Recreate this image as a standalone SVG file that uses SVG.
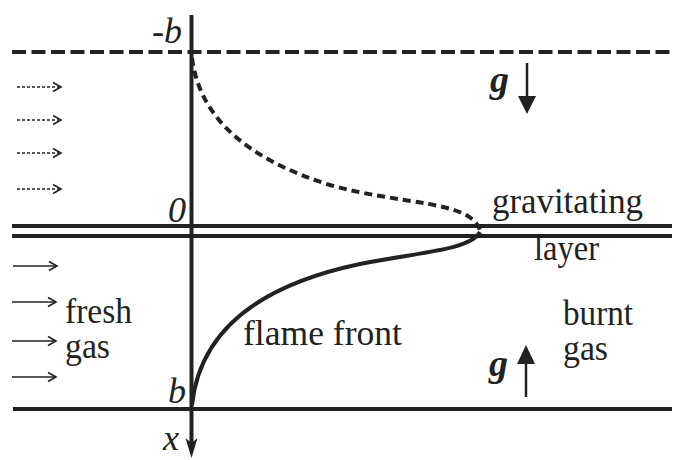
<svg xmlns="http://www.w3.org/2000/svg" width="675" height="460" viewBox="0 0 675 460">
<defs>
<style>
.t{font-family:"Liberation Serif","Times New Roman",serif;font-size:36px;fill:#222}
.i{font-style:italic}
.bi{font-style:italic;font-weight:bold;font-size:38px}
.thick{stroke:#222;stroke-width:4;fill:none}
.flow{stroke:#222;stroke-width:1.6;fill:none}
.dot{stroke-dasharray:3 2}
</style>
<marker id="open" markerWidth="12" markerHeight="12" refX="9" refY="6" orient="auto" markerUnits="userSpaceOnUse">
<path d="M1,1.5 L9,6 L1,10.5" fill="none" stroke="#222" stroke-width="1.6"/>
</marker>
</defs>
<rect width="675" height="460" fill="#fff"/>
<g id="connectors">
<line class="thick" x1="12" y1="52" x2="672" y2="52" stroke-dasharray="14 5.5"/>
<line class="thick" x1="12" y1="226" x2="672" y2="226" stroke-width="3.5"/>
<line class="thick" x1="12" y1="236" x2="672" y2="236" stroke-width="3.5"/>
<line class="thick" x1="13" y1="409" x2="672" y2="409"/>
<line class="thick" x1="191.5" y1="15" x2="191.5" y2="445"/>
<path d="M185.5,438 L191.5,458 L197.5,438 L191.5,443 Z" fill="#222"/>
<path class="thick" d="M192,58 C200,120 250,160 330,185 C400,205 470,200 480,230" stroke-dasharray="8 5"/>
<path class="thick" d="M480,232 C470,250 420,252 360,264 C260,285 200,330 192,405"/>
<line class="flow dot" x1="17" y1="87" x2="61" y2="87" marker-end="url(#open)"/>
<line class="flow dot" x1="17" y1="120" x2="61" y2="120" marker-end="url(#open)"/>
<line class="flow dot" x1="17" y1="153" x2="61" y2="153" marker-end="url(#open)"/>
<line class="flow dot" x1="17" y1="189" x2="61" y2="189" marker-end="url(#open)"/>
<line class="flow" x1="13" y1="266" x2="57" y2="266" marker-end="url(#open)"/>
<line class="flow" x1="12" y1="302" x2="56" y2="302" marker-end="url(#open)"/>
<line class="flow" x1="12" y1="341" x2="56" y2="341" marker-end="url(#open)"/>
<line class="flow" x1="12" y1="377" x2="56" y2="377" marker-end="url(#open)"/>
<line x1="527" y1="63" x2="527" y2="98" stroke="#222" stroke-width="2.5"/>
<path d="M518,96 L536,96 L527,114 Z" fill="#222"/>
<line x1="526" y1="362" x2="526" y2="397" stroke="#222" stroke-width="2.5"/>
<path d="M517,364 L535,364 L526,345 Z" fill="#222"/>
</g>
<g id="labels">
<text class="t i" x="152" y="43">-b</text>
<text class="t i" x="168" y="222">0</text>
<text class="t i" x="168" y="403">b</text>
<text class="t i" x="163" y="450">x</text>
<text class="t bi" x="490" y="92">g</text>
<text class="t bi" x="489" y="376">g</text>
<text class="t" x="492" y="213" textLength="151" lengthAdjust="spacingAndGlyphs">gravitating</text>
<text class="t" x="534" y="260" textLength="65" lengthAdjust="spacingAndGlyphs">layer</text>
<text class="t" x="65" y="323" textLength="67" lengthAdjust="spacingAndGlyphs">fresh</text>
<text class="t" x="65" y="358" textLength="45" lengthAdjust="spacingAndGlyphs">gas</text>
<text class="t" x="243" y="345" textLength="159" lengthAdjust="spacingAndGlyphs">flame front</text>
<text class="t" x="563" y="325" textLength="70" lengthAdjust="spacingAndGlyphs">burnt</text>
<text class="t" x="563" y="360" textLength="45" lengthAdjust="spacingAndGlyphs">gas</text>
</g>
</svg>
